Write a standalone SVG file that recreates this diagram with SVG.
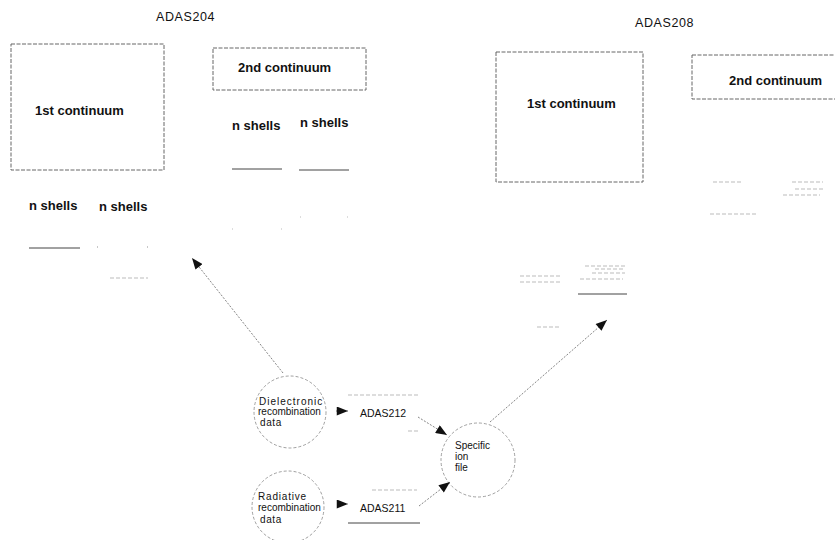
<svg xmlns="http://www.w3.org/2000/svg" width="835" height="540" viewBox="0 0 835 540">
<style>
text{font-family:"Liberation Sans",Arial,sans-serif;fill:#111}
.title{font-size:12.5px;letter-spacing:0.6px}
.bold{font-size:13px;font-weight:bold}
.sh{font-size:13px;font-weight:bold}
.small{font-size:10px}
.mid{font-size:10.5px}
.box{fill:none;stroke:#666;stroke-width:1;stroke-dasharray:4 1.5}
.circ{fill:none;stroke:#888;stroke-width:0.8;stroke-dasharray:3 2}
.ln{stroke:#444;stroke-width:1}
.faint{stroke:#aaa;stroke-width:0.8;stroke-dasharray:4 2}
.conn{stroke:#666;stroke-width:0.8;stroke-dasharray:2 1.5;fill:none}
</style>
<defs>
<marker id="ah" viewBox="0 0 10 8" refX="10" refY="4" markerWidth="12" markerHeight="9" markerUnits="userSpaceOnUse" orient="auto">
<path d="M0,0 L10,4 L0,8 z" fill="#111"/>
</marker>
</defs>
<rect width="835" height="540" fill="#fff"/>

<g id="adas204">
<text class="title" x="156" y="21">ADAS204</text>
</g>
<g id="adas208">
<text class="title" x="635" y="27">ADAS208</text>
</g>

<g id="left-first-continuum">
<rect class="box" x="11" y="44" width="153" height="126"/>
<text class="bold" x="35" y="115">1st continuum</text>
</g>
<g id="left-second-continuum">
<rect class="box" x="213" y="48" width="153" height="42"/>
<text class="bold" x="238" y="72">2nd continuum</text>
</g>
<g id="left-upper-shells">
<text class="sh" x="232" y="130">n shells</text>
<text class="sh" x="300" y="127">n shells</text>
<line class="ln" x1="232" y1="169" x2="282" y2="169" stroke="#777"/>
<line class="ln" x1="299" y1="170" x2="349" y2="170" stroke="#666"/>
<line class="faint" x1="300" y1="217" x2="348" y2="217" style="stroke-dasharray:1 46"/>
<line class="faint" x1="232" y1="229" x2="282" y2="229" style="stroke-dasharray:1 48"/>
</g>
<g id="left-lower-shells">
<text class="sh" x="29" y="210">n shells</text>
<text class="sh" x="99" y="211">n shells</text>
<line class="ln" x1="29" y1="248" x2="80" y2="248" stroke="#222"/>
<line class="faint" x1="97" y1="247" x2="148" y2="247" style="stroke-dasharray:1 49;stroke:#777"/>
<line class="faint" x1="110" y1="278" x2="148" y2="278"/>
</g>

<g id="right-first-continuum">
<rect class="box" x="496" y="52" width="147" height="130"/>
<text class="bold" x="527" y="108">1st continuum</text>
</g>
<g id="right-second-continuum">
<rect class="box" x="692" y="55" width="150" height="44"/>
<text class="bold" x="729" y="85">2nd continuum</text>
</g>
<g id="right-shells">
<line class="faint" x1="713" y1="182" x2="743" y2="182"/>
<line class="faint" x1="792" y1="182" x2="823" y2="182"/>
<line class="faint" x1="795" y1="189" x2="823" y2="189"/>
<line class="faint" x1="783" y1="195" x2="820" y2="195"/>
<line class="faint" x1="710" y1="214" x2="757" y2="214"/>
<line class="faint" x1="585" y1="266" x2="625" y2="266"/>
<line class="faint" x1="595" y1="269" x2="625" y2="269"/>
<line class="faint" x1="592" y1="273" x2="625" y2="273"/>
<line class="faint" x1="580" y1="279" x2="623" y2="279"/>
<line class="faint" x1="520" y1="276" x2="562" y2="276"/>
<line class="faint" x1="520" y1="282" x2="560" y2="282"/>
<line class="ln" x1="578" y1="294" x2="627" y2="294" stroke="#777"/>
<line class="faint" x1="537" y1="327" x2="560" y2="327"/>
</g>

<g id="dielectronic">
<circle class="circ" cx="290" cy="412" r="36"/>
<text class="small" x="259" y="405" style="letter-spacing:1px">Dielectronic</text>
<text class="small" x="258" y="415">recombination</text>
<text class="small" x="260" y="426" style="letter-spacing:0.6px">data</text>
</g>
<g id="adas212">
<line class="faint" x1="348" y1="395" x2="420" y2="395"/>
<line class="faint" x1="408" y1="431" x2="420" y2="431"/>
<text class="mid" x="360" y="417">ADAS212</text>
</g>
<g id="radiative">
<circle class="circ" cx="288" cy="507" r="36"/>
<text class="small" x="258" y="500" style="letter-spacing:0.8px">Radiative</text>
<text class="small" x="258" y="511">recombination</text>
<text class="small" x="260" y="523" style="letter-spacing:0.6px">data</text>
</g>
<g id="adas211">
<line class="faint" x1="372" y1="490" x2="417" y2="490"/>
<line class="ln" x1="348" y1="523" x2="420" y2="523" stroke="#555"/>
<text class="mid" x="360" y="512">ADAS211</text>
</g>
<g id="specific-ion-file">
<circle class="circ" cx="478" cy="460" r="37"/>
<text class="small" x="455" y="449">Specific</text>
<text class="small" x="455" y="460">ion</text>
<text class="small" x="455" y="471">file</text>
</g>

<g id="connectors">
<line class="conn" x1="283" y1="373" x2="192" y2="258" marker-end="url(#ah)"/>
<line class="conn" x1="490" y1="422" x2="607" y2="320" marker-end="url(#ah)"/>
<line class="conn" x1="336" y1="411" x2="348" y2="411" marker-end="url(#ah)"/>
<line class="conn" x1="337" y1="504" x2="348" y2="504" marker-end="url(#ah)"/>
<line class="conn" x1="418" y1="417" x2="447" y2="435" marker-end="url(#ah)"/>
<line class="conn" x1="419" y1="506" x2="450" y2="482" marker-end="url(#ah)"/>
</g>
</svg>
